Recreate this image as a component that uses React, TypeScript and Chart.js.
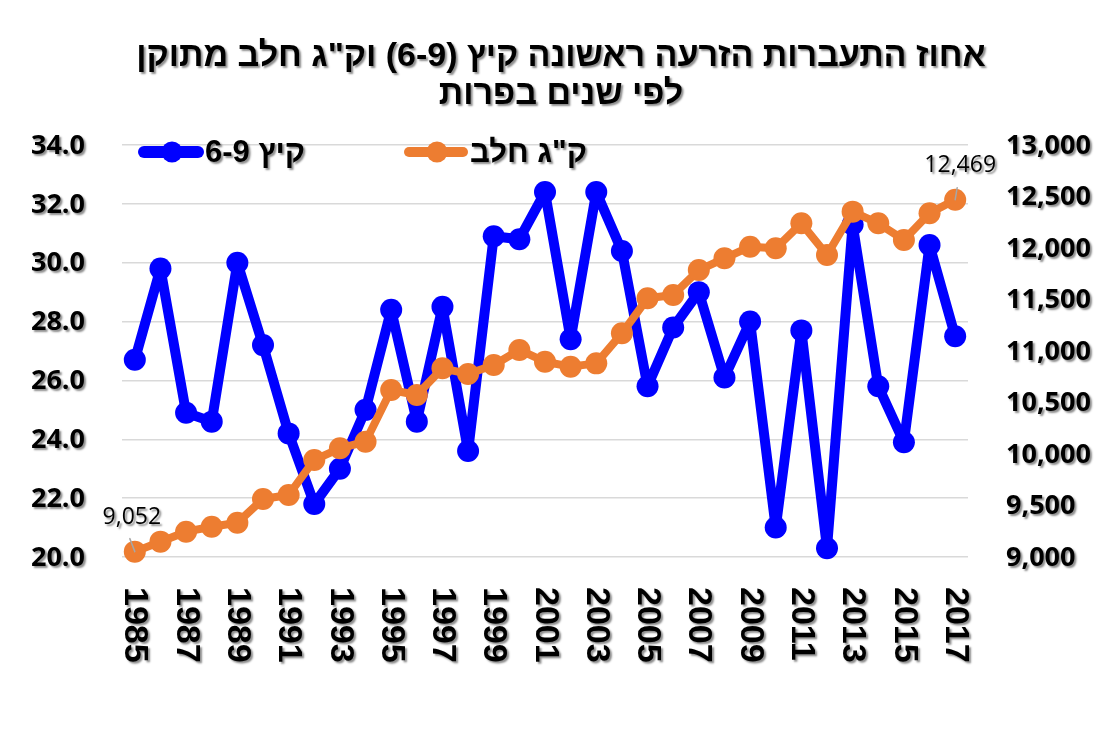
import React, { useEffect, useRef } from "react";
import { Chart, registerables } from "chart.js";

Chart.register(...registerables);

// ---- data ----
const years = [
  "1985", "1986", "1987", "1988", "1989", "1990", "1991", "1992", "1993", "1994", "1995",
  "1996", "1997", "1998", "1999", "2000", "2001", "2002", "2003", "2004", "2005", "2006",
  "2007", "2008", "2009", "2010", "2011", "2012", "2013", "2014", "2015", "2016", "2017",
];
const shownYears = [
  "1985", "1987", "1989", "1991", "1993", "1995", "1997", "1999", "2001",
  "2003", "2005", "2007", "2009", "2011", "2013", "2015", "2017",
];
const summerConception = [
  26.7, 29.8, 24.9, 24.6, 30.0, 27.2, 24.2, 21.8, 23.0, 25.0, 28.4,
  24.6, 28.5, 23.6, 30.9, 30.8, 32.4, 27.4, 32.4, 30.4, 25.8, 27.8,
  29.0, 26.1, 28.0, 21.0, 27.7, 20.3, 31.3, 25.8, 23.9, 30.6, 27.5,
];
const milkKg = [
  9052, 9149, 9246, 9294, 9333, 9563, 9602, 9942, 10055, 10119, 10621,
  10573, 10832, 10777, 10864, 11010, 10896, 10848, 10880, 11172, 11512, 11544,
  11786, 11900, 12013, 11997, 12240, 11932, 12353, 12240, 12078, 12337, 12469,
];
const leftTicks = [20, 22, 24, 26, 28, 30, 32, 34];
const rightTicks = [9000, 9500, 10000, 10500, 11000, 11500, 12000, 12500, 13000];
const seriesNames = ["קיץ 6-9", 'ק"ג חלב'];
const titleLines = ['אחוז התעברות הזרעה ראשונה קיץ (6-9) וק"ג חלב מתוקן', "לפי שנים בפרות"];

const BLUE = "#0000FF";
const ORANGE = "#ED7D31";
const GRID = "#D9D9D9";

const W = 1091;
const H = 717;

function shadowOn(ctx: CanvasRenderingContext2D) {
  ctx.shadowColor = "rgba(0,0,0,0.45)";
  ctx.shadowOffsetX = 2;
  ctx.shadowOffsetY = 2;
  ctx.shadowBlur = 2;
}
function shadowOff(ctx: CanvasRenderingContext2D) {
  ctx.shadowColor = "rgba(0,0,0,0)";
  ctx.shadowOffsetX = 0;
  ctx.shadowOffsetY = 0;
  ctx.shadowBlur = 0;
}

const textPlugin = {
  id: "customText",
  afterDraw(chart: any) {
    const ctx: CanvasRenderingContext2D = chart.ctx;
    const xs = chart.scales.x;
    const yl = chart.scales.y;
    const yr = chart.scales.y1;
    ctx.save();
    ctx.fillStyle = "#000";
    shadowOn(ctx);

    // title
    ctx.direction = "rtl";
    ctx.font = 'bold 34px "Liberation Sans", Arial, sans-serif';
    ctx.textAlign = "center";
    ctx.textBaseline = "alphabetic";
    titleLines.forEach((t, i) => ctx.fillText(t, 553, 58 + i * 38));
    ctx.direction = "ltr";

    // left ticks
    ctx.font = 'bold 27px "Open Sans", sans-serif';
    ctx.textAlign = "right";
    ctx.textBaseline = "middle";
    leftTicks.forEach((v) => ctx.fillText(v.toFixed(1), yl.left + 77, yl.getPixelForValue(v) + 1));
    // right ticks
    ctx.textAlign = "left";
    rightTicks.forEach((v) =>
      ctx.fillText(v.toLocaleString("en-US"), yr.left + 38, yr.getPixelForValue(v) + 1)
    );

    // x labels (rotated clockwise)
    ctx.font = 'bold 34px "Liberation Sans", Arial, sans-serif';
    ctx.textAlign = "left";
    ctx.textBaseline = "middle";
    shownYears.forEach((lab) => {
      const idx = years.indexOf(lab);
      const px = xs.getPixelForValue(idx);
      ctx.save();
      ctx.translate(px, xs.top + 30);
      ctx.rotate(Math.PI / 2);
      ctx.fillText(lab, 0, 0);
      ctx.restore();
    });

    // legend
    const legend = [
      { label: seriesNames[0], color: BLUE, x0: 132, lw: 12 },
      { label: seriesNames[1], color: ORANGE, x0: 397, lw: 10 },
    ];
    const ly = 144;
    legend.forEach((it) => {
      shadowOff(ctx);
      ctx.strokeStyle = it.color;
      ctx.lineWidth = it.lw;
      ctx.lineCap = "round";
      ctx.beginPath();
      ctx.moveTo(it.x0 + 4, ly);
      ctx.lineTo(it.x0 + 58, ly);
      ctx.stroke();
      ctx.fillStyle = it.color;
      ctx.beginPath();
      ctx.arc(it.x0 + 32, ly, 10.5, 0, Math.PI * 2);
      ctx.fill();
      shadowOn(ctx);
      ctx.fillStyle = "#000";
      ctx.direction = "rtl";
      ctx.font = 'bold 31px "Liberation Sans", Arial, sans-serif';
      ctx.textAlign = "left";
      ctx.textBaseline = "middle";
      ctx.fillText(it.label, it.x0 + 65, ly + 1);
      ctx.direction = "ltr";
    });

    // data labels on first and last milk points
    const meta = chart.getDatasetMeta(1);
    const first = meta.data[0];
    const last = meta.data[meta.data.length - 1];
    const labs = [
      { p: first, v: milkKg[0], dx: -3, dy: -34, l0: [-5, -13] },
      { p: last, v: milkKg[milkKg.length - 1], dx: 5, dy: -34, l0: [2, -12] },
    ];
    labs.forEach((d) => {
      shadowOff(ctx);
      ctx.strokeStyle = "#A6A6A6";
      ctx.lineWidth = 1.5;
      ctx.beginPath();
      ctx.moveTo(d.p.x + d.l0[0], d.p.y + d.l0[1]);
      ctx.lineTo(d.p.x, d.p.y);
      ctx.stroke();
      shadowOn(ctx);
      ctx.fillStyle = "#000";
      ctx.font = '23px "Open Sans", sans-serif';
      ctx.textAlign = "center";
      ctx.textBaseline = "middle";
      ctx.fillText(d.v.toLocaleString("en-US"), d.p.x + d.dx, d.p.y + d.dy);
    });

    ctx.restore();
  },
};

export default function App() {
  const ref = useRef<HTMLCanvasElement | null>(null);

  useEffect(() => {
    if (!ref.current) return;
    const chart = new Chart(ref.current, {
      type: "line",
      data: {
        labels: years,
        datasets: [
          {
            label: seriesNames[0],
            data: summerConception,
            yAxisID: "y",
            borderColor: BLUE,
            backgroundColor: BLUE,
            borderWidth: 10,
            pointRadius: 11,
            pointBorderWidth: 0,
            pointBackgroundColor: BLUE,
            pointBorderColor: BLUE,
            borderJoinStyle: "round",
            borderCapStyle: "round",
            tension: 0,
            clip: false,
            order: 2,
          },
          {
            label: seriesNames[1],
            data: milkKg,
            yAxisID: "y1",
            borderColor: ORANGE,
            backgroundColor: ORANGE,
            borderWidth: 8,
            pointRadius: 11,
            pointBorderWidth: 0,
            pointBackgroundColor: ORANGE,
            pointBorderColor: ORANGE,
            borderJoinStyle: "round",
            borderCapStyle: "round",
            tension: 0,
            clip: false,
            order: 1,
          },
        ],
      },
      options: {
        animation: false,
        responsive: false,
        maintainAspectRatio: false,
        devicePixelRatio: 1,
        layout: { padding: { top: 137, left: 0, right: 0, bottom: 0 } },
        plugins: {
          legend: { display: false },
          title: { display: false },
          tooltip: { enabled: false },
        },
        scales: {
          x: {
            offset: true,
            grid: { display: false },
            border: { display: false },
            ticks: { display: false },
            afterFit: (s: any) => {
              s.height = 168;
            },
          },
          y: {
            position: "left",
            min: leftTicks[0],
            max: leftTicks[leftTicks.length - 1],
            ticks: { display: false, stepSize: leftTicks[1] - leftTicks[0] },
            grid: { color: GRID, lineWidth: 1.5, drawTicks: false },
            border: { display: false },
            afterFit: (s: any) => {
              s.width = 114;
            },
          },
          y1: {
            position: "right",
            min: rightTicks[0],
            max: rightTicks[rightTicks.length - 1],
            ticks: { display: false, stepSize: rightTicks[1] - rightTicks[0] },
            grid: { display: false, drawTicks: false },
            border: { display: false },
            afterFit: (s: any) => {
              s.width = 131;
            },
          },
        },
      },
      plugins: [textPlugin],
    } as any);
    return () => chart.destroy();
  }, []);

  return (
    <div
      style={{
        borderTop: "2px solid #D9D9D9",
        borderLeft: "2px solid #D9D9D9",
        margin: "-2px 0 0 -2px",
        width: W,
        height: H,
        background: "#fff",
      }}
    >
      <canvas ref={ref} width={W} height={H} style={{ display: "block", width: W, height: H }} />
    </div>
  );
}
